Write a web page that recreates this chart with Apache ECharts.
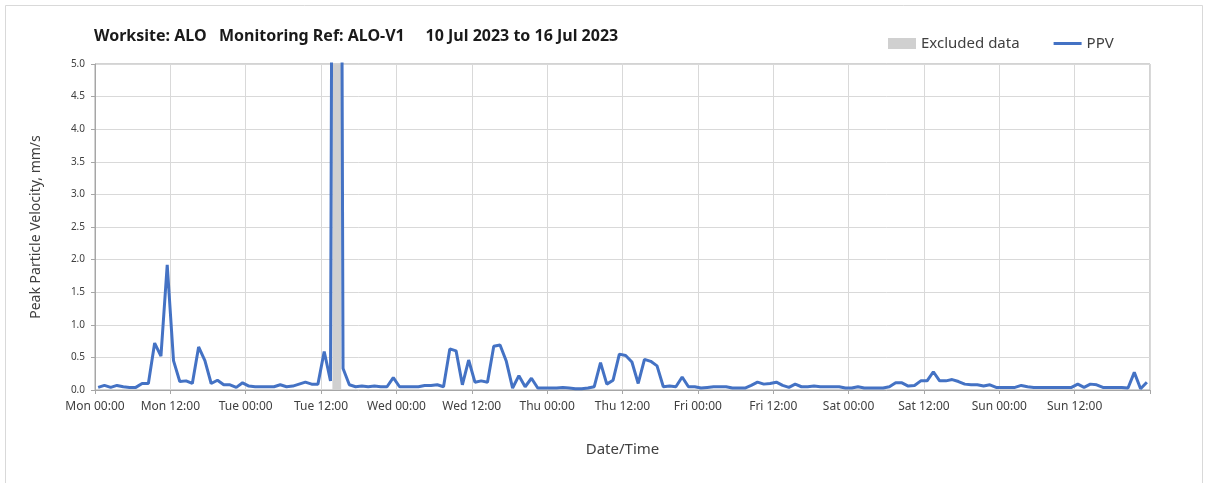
<!DOCTYPE html>
<html>
<head>
<meta charset="utf-8">
<script src="https://cdn.jsdelivr.net/npm/echarts@6/dist/echarts.min.js"></script>
<style>
html,body{margin:0;padding:0;background:#fff;}
#c{width:1208px;height:483px;}
</style>
</head>
<body>
<div id="c"></div>
<script>
// Hourly PPV readings (mm/s), taken at half past each hour from Mon 00:30
var ppvDay1 = [0.04,0.07,0.04,0.07,0.05,0.04,0.04,0.10,0.10,0.72,0.52,1.92,0.45,0.13,0.14,0.10,0.66,0.45,0.10,0.15,0.08,0.08,0.04,0.11];
var ppvDay2 = [0.06,0.05,0.05,0.05,0.05,0.08,0.05,0.06,0.09,0.12,0.09,0.09,0.59,0.14,30,0.33,0.08,0.05,0.06,0.05,0.06,0.05,0.05,0.19];
var ppvDay3 = [0.05,0.05,0.05,0.05,0.07,0.07,0.08,0.05,0.63,0.60,0.08,0.46,0.12,0.14,0.12,0.67,0.69,0.44,0.03,0.22,0.05,0.18,0.03,0.03];
var ppvDay4 = [0.03,0.03,0.04,0.03,0.02,0.02,0.03,0.05,0.42,0.09,0.15,0.55,0.53,0.43,0.10,0.47,0.44,0.37,0.05,0.06,0.05,0.20,0.05,0.05];
var ppvDay5 = [0.03,0.04,0.05,0.05,0.05,0.03,0.03,0.03,0.07,0.12,0.09,0.10,0.12,0.07,0.04,0.09,0.05,0.05,0.06,0.05,0.05,0.05,0.05,0.03];
var ppvDay6 = [0.03,0.05,0.03,0.03,0.03,0.03,0.05,0.11,0.11,0.06,0.07,0.14,0.14,0.28,0.14,0.14,0.16,0.13,0.09,0.08,0.08,0.06,0.08,0.04];
var ppvDay7 = [0.04,0.04,0.04,0.07,0.05,0.04,0.04,0.04,0.04,0.04,0.04,0.04,0.09,0.04,0.09,0.08,0.04,0.04,0.04,0.04,0.03,0.27,0.02,0.12];
var readingOffsetHours = 0.5;
// Excluded data period (hours from Mon 00:00)
var excludedStart = 37.8;
var excludedEnd = 39.2;
// X tick labels every 12 hours
var tickLabels = ['Mon 00:00','Mon 12:00','Tue 00:00','Tue 12:00','Wed 00:00','Wed 12:00','Thu 00:00','Thu 12:00','Fri 00:00','Fri 12:00','Sat 00:00','Sat 12:00','Sun 00:00','Sun 12:00',''];
var titleText = 'Worksite: ALO   Monitoring Ref: ALO-V1     10 Jul 2023 to 16 Jul 2023';

var allPpv = [].concat(ppvDay1, ppvDay2, ppvDay3, ppvDay4, ppvDay5, ppvDay6, ppvDay7);
var ppvData = allPpv.map(function (v, i) { return [i + readingOffsetHours, v]; });

var FONT = '"Noto Sans", "Open Sans", sans-serif';
var chart = echarts.init(document.getElementById('c'), null, {renderer: 'canvas'});
chart.setOption({
  animation: false,
  backgroundColor: '#ffffff',
  graphic: [{
    type: 'rect',
    shape: {x: 5.5, y: 5.5, width: 1197, height: 500},
    style: {fill: 'none', stroke: '#d9d9d9', lineWidth: 1},
    silent: true, z: -10
  }],
  title: {
    text: titleText,
    left: 89, top: 23,
    textStyle: {fontFamily: FONT, fontSize: 16, fontWeight: 'bold', color: '#1a1a1a'}
  },
  legend: {
    left: 883, top: 31,
    itemWidth: 28, itemHeight: 11, itemGap: 34,
    symbolKeepAspect: true,
    textStyle: {fontFamily: FONT, fontSize: 15, color: '#404040'},
    data: [
      {name: 'Excluded data', icon: 'rect', itemStyle: {color: '#d0d0d0'}},
      {name: 'PPV', icon: 'path://M0,0 L28,0 L28,3 L0,3 Z', itemStyle: {color: '#4472c4'}}
    ]
  },
  grid: {
    left: 95, right: 58, top: 64, bottom: 93,
    show: true, borderColor: '#a6a6a6', borderWidth: 1, backgroundColor: 'transparent'
  },
  xAxis: {
    type: 'value', min: 0, max: 168, interval: 12,
    name: 'Date/Time', nameLocation: 'middle', nameGap: 52,
    nameTextStyle: {fontFamily: FONT, fontSize: 15, color: '#404040'},
    axisLine: {show: true, lineStyle: {color: '#a6a6a6', width: 1}},
    axisTick: {show: true, inside: false, length: 4, lineStyle: {color: '#a6a6a6'}},
    splitLine: {show: true, lineStyle: {color: '#d9d9d9', width: 1}},
    axisLabel: {
      margin: 11, fontFamily: FONT, fontSize: 12, color: '#404040',
      formatter: function (v) { return tickLabels[Math.round(v / 12)] || ''; }
    }
  },
  yAxis: {
    type: 'value', min: 0, max: 5, interval: 0.5,
    name: 'Peak Particle Velocity, mm/s', nameLocation: 'middle', nameGap: 52,
    nameTextStyle: {fontFamily: FONT, fontSize: 14, color: '#404040'},
    axisLine: {show: true, lineStyle: {color: '#a6a6a6', width: 1}},
    axisTick: {show: true, inside: false, length: 4, lineStyle: {color: '#a6a6a6'}},
    splitLine: {show: true, lineStyle: {color: '#d9d9d9', width: 1}},
    axisLabel: {
      margin: 10, fontFamily: FONT, fontSize: 10, color: '#404040',
      formatter: function (v) { return v.toFixed(1); }
    }
  },
  series: [
    {
      name: 'Excluded data', type: 'line', data: [],
      itemStyle: {color: '#d0d0d0'}, lineStyle: {color: '#d0d0d0'},
      markArea: {
        silent: true,
        itemStyle: {color: '#d0d0d0', opacity: 1},
        data: [[{xAxis: excludedStart}, {xAxis: excludedEnd}]]
      }
    },
    {
      name: 'PPV', type: 'line', data: ppvData,
      symbol: 'none', clip: true,
      lineStyle: {color: '#4472c4', width: 3},
      itemStyle: {color: '#4472c4'},
      z: 3
    }
  ]
});
</script>
</body>
</html>
